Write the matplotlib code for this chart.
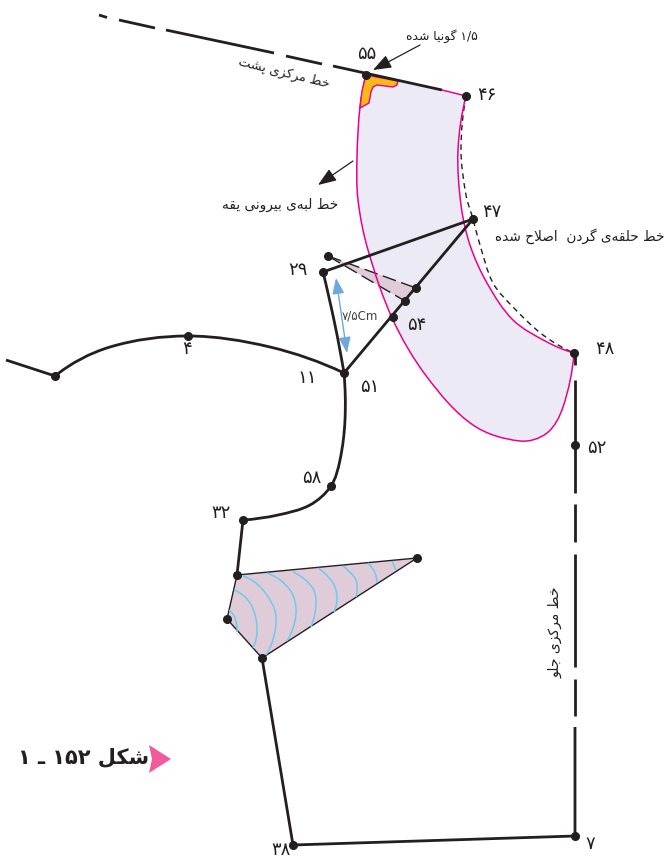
#!/usr/bin/env python3
"""
plot.py: Collar pattern draft with Persian labels, drawn on a pixel-sized canvas.
"""

import matplotlib
matplotlib.use("Agg")
import matplotlib.pyplot as plt
import numpy as np
from matplotlib.patches import PathPatch, Polygon, FancyArrowPatch
from matplotlib.path import Path

WIDTH, HEIGHT = 668, 859

BLACK   = "#231f20"
MAGENTA = "#ec008c"
LILAC   = "#ecebf5"
MAUVE   = "#e0cbd9"
GOLD    = "#fdb913"
CYAN    = "#6ccbee"
BLUE    = "#6fa8dc"
PINK    = "#f15a9c"
FONT    = "DejaVu Sans"

# curves and lines of the draft
collar_outer = [(366, 75), (360, 107), (357, 157), (358, 200), (368, 250), (393, 320),
                (427, 377), (473, 425), (520, 441), (547, 433), (563, 407), (574, 353)]
collar_inner = [(466, 96), (458, 150), (461, 205), (470, 245), (487, 283), (513, 320),
                (547, 342), (574, 353)]
neck_dashed  = [(466, 96), (461, 150), (466, 195), (473, 219), (480, 245), (493, 283),
                (513, 307), (543, 335), (574, 353)]
gold_corner  = [(366, 75), (398, 81), (397, 85), (393, 87), (377, 85), (373, 87), (371, 92),
                (369, 103), (360, 108), (362, 91)]
shoulder     = [(55, 376), (110, 347), (188, 336), (270, 347), (344, 373)]
shoulder_end = [(6, 360), (55, 376)]
armhole      = [(344, 373), (345, 420), (340, 460), (331, 486), (310, 505), (278, 515), (243, 520)]
armhole_low  = [(243, 520), (237, 575)]
neck_side    = [(323, 272), (335, 325), (344, 373)]
guide_lines  = [[(323, 272), (473, 219)], [(473, 219), (344, 373)]]
side_seam    = [(262, 658), (293, 845), (575, 836), (575, 727)]
front_dashes = [(353, 365), (380, 493), (504, 542), (554, 667), (679, 716)]
back_dashes  = [((99, 15), (107, 17.5)), ((119, 20), (155, 28)), ((166, 30), (274, 53)),
                ((286, 56), (322, 64)), ((333, 66), (442, 90))]
back_pink    = [(442, 90), (466, 96)]

small_dart = [(328, 256), (416, 288), (405, 301)]
dart_dash  = [((328, 256), (416, 288)), ((328, 256), (405, 301))]
big_dart   = [(237, 575), (417, 558), (262, 658), (227, 619)]
dart_arcs  = [
    [(229, 610), (235, 618), (237, 632)],
    [(234, 590), (250, 603), (257, 627), (253, 648)],
    [(243, 576), (263, 590), (276, 617), (266, 655)],
    [(267, 573), (290, 590), (296, 613), (287, 641)],
    [(293, 572), (312, 587), (316, 603), (311, 627)],
    [(318, 568), (333, 583), (337, 597), (334, 612)],
    [(343, 566), (355, 578), (357, 585), (356, 597)],
    [(368, 563), (375, 573), (377, 583)],
    [(392, 561), (396, 570)],
]

points = [(366, 75), (466, 96), (473, 219), (574, 353), (575, 445), (323, 272), (328, 256),
          (416, 288), (405, 301), (393, 317), (344, 373), (188, 336), (55, 376), (331, 486),
          (243, 520), (237, 575), (417, 558), (227, 619), (262, 658), (293, 845), (575, 836)]

point_labels = ["۵۵", "۴۶", "۴۷", "۴۸", "۵۲", "۵۴", "۵۱", "۱۱", "۲۹", "۴", "۵۸", "۳۲", "۳۸", "۷"]
label_xy     = [(367, 54), (487, 95), (492, 212), (605, 349), (597, 448), (417, 325), (370, 387),
                (307, 378), (298, 270), (187, 349), (312, 478), (221, 513), (281, 850), (590, 844)]

# isolated, final, initial, medial presentation forms
FORMS = {
    "ا": "\uFE8D\uFE8E", "د": "\uFEA9\uFEAA", "ر": "\uFEAD\uFEAE", "ز": "\uFEAF\uFEB0", "و": "\uFEED\uFEEE",
    "ب": "\uFE8F\uFE90\uFE91\uFE92", "پ": "\uFB56\uFB57\uFB58\uFB59", "ت": "\uFE95\uFE96\uFE97\uFE98",
    "ج": "\uFE9D\uFE9E\uFE9F\uFEA0", "ح": "\uFEA1\uFEA2\uFEA3\uFEA4", "خ": "\uFEA5\uFEA6\uFEA7\uFEA8",
    "ش": "\uFEB5\uFEB6\uFEB7\uFEB8", "ص": "\uFEB9\uFEBA\uFEBB\uFEBC", "ط": "\uFEC1\uFEC2\uFEC3\uFEC4",
    "ق": "\uFED5\uFED6\uFED7\uFED8", "ک": "\uFB8E\uFB8F\uFB90\uFB91", "گ": "\uFB92\uFB93\uFB94\uFB95",
    "ل": "\uFEDD\uFEDE\uFEDF\uFEE0", "م": "\uFEE1\uFEE2\uFEE3\uFEE4", "ن": "\uFEE5\uFEE6\uFEE7\uFEE8",
    "ه": "\uFEE9\uFEEA\uFEEB\uFEEC", "ی": "\uFBFC\uFBFD\uFBFE\uFBFF",
}


def fa(text):
    """Shape Persian text and put it in visual order; matplotlib does neither."""
    text = text.replace("لا", "\uFEFB")
    out = []
    for i, ch in enumerate(text):
        prev = text[i - 1] if i else ""
        nxt = text[i + 1] if i + 1 < len(text) else ""
        joins_prev = prev in FORMS and len(FORMS[prev]) == 4
        if ch == "\uFEFB":
            out.append("\uFEFC" if joins_prev else ch)
        elif ch in FORMS:
            f = FORMS[ch]
            joins_next = len(f) == 4 and (nxt in FORMS or nxt == "\uFEFB")
            if joins_prev and joins_next:
                out.append(f[3])
            elif joins_prev:
                out.append(f[1])
            elif joins_next:
                out.append(f[2])
            else:
                out.append(f[0])
        elif ch != "\u200c":
            out.append(ch)
    # reverse, but leave digit runs reading left to right
    words = []
    run = ""
    for ch in reversed(out):
        if ch in "۰۱۲۳۴۵۶۷۸۹/":
            run = ch + run
        else:
            if run:
                words.append(run)
                run = ""
            words.append(ch)
    if run:
        words.append(run)
    return "".join(words)


def smooth(pts):
    """Spline through pts as cubic Bezier vertices, handles scaled to chord length."""
    p = np.array(pts, dtype=float)
    tang = np.zeros_like(p)
    tang[1:-1] = p[2:] - p[:-2]
    tang[1:-1] /= np.linalg.norm(tang[1:-1], axis=1, keepdims=True)
    # end tangents mirror the neighbour across the end chord, so ends keep bending
    for end, near, inner in [(0, 1, 1), (-1, -2, -2)]:
        d = p[end] - p[near]
        d = d / np.linalg.norm(d)
        tang[end] = 2 * np.dot(d, tang[inner]) * d - tang[inner]
    verts = [p[0]]
    for i in range(len(p) - 1):
        chord = np.linalg.norm(p[i + 1] - p[i])
        verts.append(p[i] + tang[i] * chord / 3)
        verts.append(p[i + 1] - tang[i + 1] * chord / 3)
        verts.append(p[i + 1])
    return np.array(verts)


def curve(ax, pts, color=BLACK, lw=2.0, **kw):
    if len(pts) == 2:
        line(ax, pts, color=color, lw=lw, **kw)
        return
    v = smooth(pts)
    codes = [Path.MOVETO] + [Path.CURVE4] * (len(v) - 1)
    ax.add_patch(PathPatch(Path(v, codes), fill=False, edgecolor=color, lw=lw, **kw))


def line(ax, pts, color=BLACK, lw=2.0, **kw):
    xs, ys = zip(*pts)
    ax.plot(xs, ys, color=color, lw=lw, solid_capstyle="butt", **kw)


def arrow(ax, start, end):
    ax.add_patch(FancyArrowPatch(start, end, arrowstyle="-|>,head_length=0.8,head_width=0.3",
                                 mutation_scale=14, color=BLACK, lw=0.9,
                                 shrinkA=0, shrinkB=0, zorder=6))


def main():
    fig = plt.figure(figsize=(WIDTH / 100, HEIGHT / 100), dpi=100)
    ax = fig.add_axes([0, 0, 1, 1])
    ax.set_xlim(0, WIDTH)
    ax.set_ylim(HEIGHT, 0)
    ax.axis("off")

    # collar piece
    outer = smooth(collar_outer)
    inner = smooth(collar_inner)[::-1]
    verts = np.vstack([outer, inner[1:], outer[:1]])
    codes = [Path.MOVETO] + [Path.CURVE4] * (len(verts) - 2) + [Path.LINETO]
    ax.add_patch(PathPatch(Path(verts, codes), facecolor=LILAC, edgecolor="none", zorder=1))
    curve(ax, collar_outer, color=MAGENTA, lw=1.1, zorder=4)
    curve(ax, collar_inner, color=MAGENTA, lw=1.1, zorder=4)
    curve(ax, neck_dashed, lw=1.0, linestyle=(0, (4, 3)), zorder=3)

    ax.add_patch(Polygon(gold_corner, closed=True, facecolor=GOLD, edgecolor=MAGENTA,
                         lw=1.0, joinstyle="round", zorder=4))

    # darts
    ax.add_patch(Polygon(small_dart, closed=True, facecolor=MAUVE, edgecolor="none", zorder=2))
    for seg in dart_dash:
        line(ax, seg, lw=1.0, linestyle=(0, (10, 4)), zorder=3)
    ax.add_patch(Polygon(big_dart, closed=True, facecolor=MAUVE, edgecolor=BLACK, lw=1.0, zorder=2))
    for arc in dart_arcs:
        curve(ax, arc, color=CYAN, lw=1.1, zorder=3)

    # draft lines
    curve(ax, shoulder, zorder=5)
    line(ax, shoulder_end, zorder=5)
    curve(ax, armhole, zorder=5)
    line(ax, armhole_low, zorder=5)
    curve(ax, neck_side, zorder=5)
    for seg in guide_lines:
        line(ax, seg, zorder=5)
    line(ax, side_seam, zorder=5)
    for y0, y1 in front_dashes:
        line(ax, [(575, y0), (575, y1)], zorder=5)
    for seg in back_dashes:
        line(ax, seg, zorder=5)
    line(ax, back_pink, color=MAGENTA, lw=1.1, zorder=5)

    xs, ys = zip(*points)
    ax.plot(xs, ys, "o", color=BLACK, markersize=5.5, linestyle="none", zorder=7)

    # measure and call-out arrows
    ax.add_patch(FancyArrowPatch((336, 278), (347, 353),
                                 arrowstyle="<|-|>,head_length=0.8,head_width=0.3",
                                 mutation_scale=12, color=BLUE, lw=1.0,
                                 shrinkA=0, shrinkB=0, zorder=4))
    arrow(ax, (420, 45), (373, 70))
    arrow(ax, (353, 161), (318, 185))

    # labels
    for label, (x, y) in zip(point_labels, label_xy):
        ax.text(x, y, label, ha="center", va="center", fontsize=13, color=BLACK, family=FONT)

    notes = dict(ha="center", va="center", color=BLACK, family=FONT)
    ax.text(442, 36, fa("۱/۵ گونیا شده"), fontsize=8.9, **notes)
    ax.text(284, 73, fa("خط مرکزی پشت"), fontsize=9.3, rotation=-14, rotation_mode="anchor", **notes)
    ax.text(280, 205, fa("خط لبه‌ی بیرونی یقه"), fontsize=9.8, **notes)
    ax.text(580, 236, fa("خط حلقه‌ی گردن  اصلاح شده"), fontsize=9.8, **notes)
    ax.text(555, 632, fa("خط مرکزی جلو"), fontsize=10, rotation=90, **notes)
    ax.text(360, 316, "۷/۵Cm", ha="center", va="center", color="#414042", family=FONT, fontsize=8.5)

    ax.add_patch(Polygon([(149, 745), (171, 759), (149, 773), (152, 759)], closed=True,
                         facecolor=PINK, edgecolor="none"))
    ax.text(84, 757, fa("شکل ۱۵۲ ـ ۱"), ha="center", va="center", color=BLACK,
            family=FONT, fontsize=15, fontweight="bold")

    fig.savefig("out.png", dpi=100, facecolor="white")
    plt.close(fig)


if __name__ == "__main__":
    main()
